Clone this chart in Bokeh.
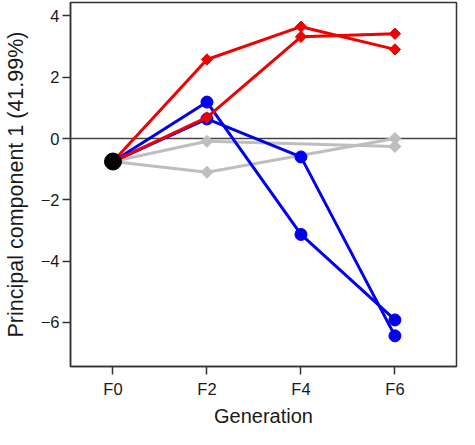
import math
from bokeh.plotting import figure
from bokeh.models import Range1d, FixedTicker, Span, CustomJSTickFormatter
from bokeh.embed import file_html
from bokeh.resources import INLINE

# ---- data ----
generations = ["F0", "F2", "F4", "F6"]
gen_x = [0, 2, 4, 6]
f0_value = -0.75

red_a_x = [0, 2, 4, 6]
red_a_y = [-0.75, 2.58, 3.65, 2.91]
red_b_x = [0, 2, 4, 6]
red_b_y = [-0.75, 0.69, 3.32, 3.42]

blue_a_x = [0, 2, 4, 6]
blue_a_y = [-0.75, 1.19, -3.13, -5.92]
blue_b_x = [0, 2, 4, 6]
blue_b_y = [-0.75, 0.64, -0.60, -6.44]

grey_a_x = [0, 2, 6]
grey_a_y = [-0.75, -0.09, -0.26]
grey_b_x = [0, 2, 6]
grey_b_y = [-0.75, -1.10, 0.00]

y_ticks = [-6, -4, -2, 0, 2, 4]

RED = "#f00000"
BLUE = "#0000ee"
GREY = "#bebebe"
FONT = "Liberation Sans"

p = figure(width=459, height=429, output_backend="svg", toolbar_location=None,
           x_range=Range1d(-0.904, 7.31), y_range=Range1d(-7.44, 4.44),
           min_border_left=70, min_border_top=2, min_border_right=3,
           min_border_bottom=61)

p.grid.visible = False
p.outline_line_color = "#333333"
p.outline_line_width = 1.5
p.background_fill_color = "white"
p.border_fill_color = "white"

zero = Span(location=0, dimension="width", line_color="#444444",
            line_width=1.5, level="underlay")
p.add_layout(zero)

# grey series (no F4 value)
for xs, ys in [(grey_a_x, grey_a_y), (grey_b_x, grey_b_y)]:
    p.line(xs, ys, line_color=GREY, line_width=3)
    p.scatter(xs[1:], ys[1:], marker="square", size=8.5, angle=math.pi / 4,
              fill_color=GREY, line_color=GREY)

for xs, ys in [(blue_a_x, blue_a_y), (blue_b_x, blue_b_y)]:
    p.line(xs, ys, line_color=BLUE, line_width=3)
    p.scatter(xs[1:], ys[1:], marker="circle", size=12,
              fill_color=BLUE, line_color=BLUE)

for xs, ys in [(red_a_x, red_a_y), (red_b_x, red_b_y)]:
    p.line(xs, ys, line_color=RED, line_width=3)
    p.scatter(xs[1:], ys[1:], marker="square", size=8, angle=math.pi / 4,
              fill_color=RED, line_color=RED)

p.scatter([0], [f0_value], marker="circle", size=17,
          fill_color="black", line_color="black")

# axes
for ax in (p.xaxis[0], p.yaxis[0]):
    ax.axis_line_color = "#333333"
    ax.axis_line_width = 1.5
    ax.major_tick_line_color = "#333333"
    ax.major_tick_line_width = 1.5
    ax.major_tick_in = 0
    ax.major_tick_out = 8
    ax.minor_tick_line_color = None
    ax.major_label_text_font = FONT
    ax.major_label_text_font_size = "16.5px"
    ax.major_label_text_color = "#1a1a1a"
    ax.axis_label_text_font = FONT
    ax.axis_label_text_font_style = "normal"
    ax.axis_label_text_color = "#1a1a1a"

p.xaxis.ticker = FixedTicker(ticks=gen_x)
p.xaxis.major_label_overrides = {x: g for x, g in zip(gen_x, generations)}
p.xaxis.axis_label = "Generation"
p.xaxis.axis_label_text_font_size = "20px"
p.xaxis.major_label_standoff = 5
p.xaxis.axis_label_standoff = 4

p.yaxis.ticker = FixedTicker(ticks=y_ticks)
p.yaxis.formatter = CustomJSTickFormatter(
    code="return (tick < 0 ? '\\u2212' : '') + Math.abs(tick);")
p.yaxis.axis_label = "Principal component 1 (41.99%)"
p.yaxis.axis_label_text_font_size = "21.5px"
p.yaxis.major_label_standoff = 3
p.yaxis.axis_label_standoff = 10

open("out.html", "w").write(file_html(p, INLINE))
